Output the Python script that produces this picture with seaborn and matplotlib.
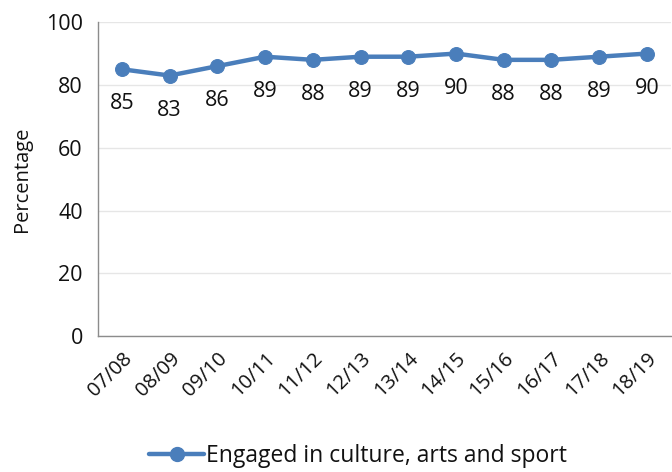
import numpy as np
import pandas as pd
import matplotlib
matplotlib.use("Agg")
import matplotlib.pyplot as plt
import seaborn as sns

# data
years = ["07/08", "08/09", "09/10", "10/11", "11/12", "12/13",
         "13/14", "14/15", "15/16", "16/17", "17/18", "18/19"]
engaged = [85, 83, 86, 89, 88, 89, 89, 90, 88, 88, 89, 90]
series_name = "Engaged in culture, arts and sport"

df = pd.DataFrame({"year": np.arange(len(years)), "pct": engaged})

sns.set_theme(style="white")
plt.rcParams["font.family"] = ["Open Sans", "DejaVu Sans"]
plt.rcParams["text.color"] = "#111111"

blue = "#4A7EBB"
grey = "#8C8C8C"

fig = plt.figure(figsize=(6.72, 4.72), dpi=100)
ax = fig.add_axes([0.146, 0.288, 0.852, 0.665])

sns.lineplot(data=df, x="year", y="pct", ax=ax, color=blue, linewidth=3.2,
             marker="o", markersize=10, markeredgecolor=blue, legend=False)

# value labels under each point
for x, v in zip(df["year"], df["pct"]):
    ax.annotate(str(v), (x, v), xytext=(0, -25), textcoords="offset points",
                ha="center", va="center", fontsize=15.5, color="#111111")

ax.set_xlim(-0.5, len(years) - 0.5)
ax.set_ylim(0, 100)
ax.set_yticks(range(0, 101, 20))
ax.set_xticks(df["year"])
ax.set_xticklabels(years, rotation=45, ha="right", rotation_mode="anchor")
ax.set_xticks(np.arange(len(years) + 1) - 0.5, minor=True)
ax.tick_params(axis="x", which="major", length=0, labelsize=14.5, pad=9,
               labelcolor="#111111")
ax.tick_params(axis="x", which="minor", length=5, color=grey, direction="out")
ax.tick_params(axis="y", length=6, color=grey, direction="out", labelsize=15.5,
               pad=5, labelcolor="#111111")
ax.set_xlabel("")
ax.set_ylabel("Percentage", fontsize=14.5, color="#111111", labelpad=10)
ax.grid(axis="y", color="#E6E6E6", linewidth=1)
ax.set_axisbelow(True)
for s in ["top", "right"]:
    ax.spines[s].set_visible(False)
for s in ["left", "bottom"]:
    ax.spines[s].set_color(grey)
    ax.spines[s].set_linewidth(1)

handle = plt.Line2D([], [], color=blue, linewidth=3.2, marker="o",
                    markersize=10)
fig.legend([handle], [series_name], loc="center",
           bbox_to_anchor=(0.533, 0.033), frameon=False, fontsize=16.5,
           handlelength=2.4, handletextpad=0.1, borderpad=0)

fig.savefig("out.png", dpi=100)
